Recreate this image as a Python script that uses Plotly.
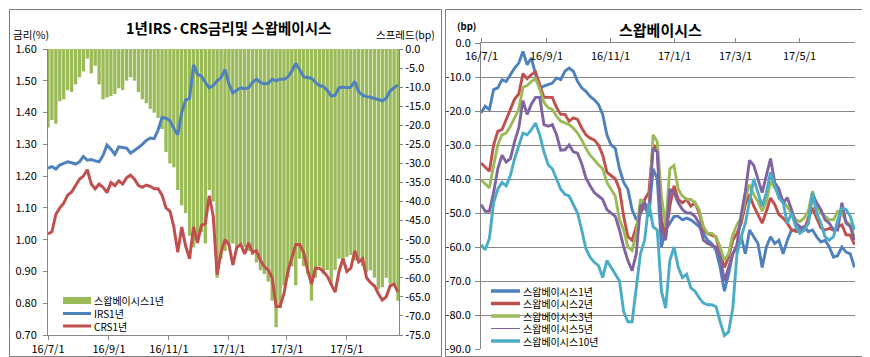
import pandas as pd
import plotly.graph_objects as go

# ---------------- data ----------------
dates = pd.date_range("2016-07-01", periods=90, freq="4D")

irs_1y = [1.225, 1.230, 1.222, 1.235, 1.240, 1.245, 1.242, 1.238, 1.245, 1.262,
          1.250, 1.252, 1.248, 1.245, 1.265, 1.298, 1.285, 1.268, 1.292, 1.290,
          1.288, 1.272, 1.280, 1.290, 1.300, 1.312, 1.320, 1.318, 1.345, 1.385,
          1.382, 1.375, 1.350, 1.330, 1.400, 1.440, 1.445, 1.550, 1.520, 1.515,
          1.495, 1.478, 1.485, 1.500, 1.510, 1.535, 1.490, 1.462, 1.470, 1.478,
          1.475, 1.478, 1.495, 1.505, 1.495, 1.490, 1.492, 1.505, 1.500, 1.505,
          1.505, 1.512, 1.530, 1.555, 1.535, 1.512, 1.510, 1.508, 1.495, 1.485,
          1.482, 1.470, 1.452, 1.455, 1.478, 1.480, 1.478, 1.480, 1.498, 1.465,
          1.455, 1.450, 1.448, 1.445, 1.440, 1.437, 1.445, 1.468, 1.478, 1.487]

crs_1y = [1.018, 1.025, 1.080, 1.100, 1.115, 1.140, 1.150, 1.168, 1.190, 1.200,
          1.220, 1.175, 1.160, 1.175, 1.165, 1.148, 1.180, 1.170, 1.185, 1.175,
          1.195, 1.203, 1.190, 1.170, 1.165, 1.172, 1.168, 1.160, 1.160, 1.140,
          1.100, 1.090, 1.040, 0.960, 1.040, 0.980, 0.940, 1.040, 0.990, 1.045,
          1.050, 1.138, 1.075, 0.890, 0.960, 1.000, 0.985, 0.920, 0.975, 0.985,
          0.955, 0.990, 0.960, 0.965, 0.935, 0.915, 0.905, 0.880, 0.790, 0.790,
          0.830, 0.900, 0.940, 0.985, 0.985, 0.960, 0.905, 0.860, 0.910, 0.910,
          0.900, 0.885, 0.860, 0.835, 0.900, 0.940, 0.900, 0.910, 0.965, 0.930,
          0.940, 0.880, 0.865, 0.855, 0.830, 0.810, 0.820, 0.855, 0.860, 0.835]

basis_1y = [-20.6, -18.6, -19.6, -13.7, -13.2, -10.8, -11.3, -9.3, -7.4, -5.9,
            -2.5, -6.4, -4.4, -9.3, -13.2, -12.7, -12.3, -11.8, -10.3, -10.8,
            -8.3, -7.4, -8.3, -11.3, -13.2, -14.2, -15.7, -16.7, -18.1, -21.0,
            -27.0, -30.0, -31.0, -37.0, -41.0, -43.0, -49.0, -52.0, -50.0, -48.0,
            -51.0, -37.0, -40.0, -60.0, -55.0, -53.0, -51.0, -51.0, -52.0, -51.5,
            -52.0, -53.0, -54.0, -56.0, -58.0, -59.0, -61.0, -66.0, -73.0, -68.0,
            -62.0, -60.0, -57.0, -62.0, -55.0, -57.0, -59.0, -66.0, -60.0, -57.0,
            -59.0, -58.0, -62.0, -58.0, -55.0, -55.0, -54.5, -54.0, -55.5, -55.0,
            -57.0, -58.5, -58.0, -60.0, -63.0, -62.5, -60.0, -61.5, -62.0, -66.0]

basis_2y = [-35.3, -36.5, -37.7, -30.0, -26.0, -25.5, -22.5, -19.0, -16.5, -15.0,
            -9.0, -10.5, -9.3, -8.5, -12.0, -16.0, -16.0, -16.0, -19.0, -21.0,
            -21.0, -23.0, -22.0, -22.5, -25.0, -27.0, -28.0, -28.5, -30.0, -33.0,
            -38.0, -39.0, -40.0, -43.0, -51.0, -57.0, -58.0, -54.0, -50.0, -46.0,
            -44.0, -30.0, -31.0, -52.0, -57.0, -48.0, -42.0, -46.0, -47.0, -46.0,
            -48.0, -47.0, -50.0, -55.0, -56.0, -56.5, -57.0, -62.0, -66.0, -63.0,
            -58.0, -56.0, -53.0, -47.5, -44.6, -48.0, -50.5, -53.0, -49.5, -45.6,
            -47.5, -50.5, -51.5, -53.0, -55.0, -55.4, -55.5, -55.0, -51.5, -48.5,
            -51.5, -54.4, -55.0, -54.5, -55.0, -54.0, -53.5, -56.4, -56.5, -59.3]

basis_3y = [-40.2, -41.5, -42.6, -36.0, -30.0, -27.0, -26.5, -24.5, -22.0, -19.5,
            -13.0, -12.5, -11.3, -10.5, -13.5, -17.5, -19.0, -19.5, -21.5, -23.0,
            -23.5, -24.0, -25.0, -26.5, -28.5, -31.0, -33.0, -34.5, -35.8, -37.0,
            -41.0, -43.0, -45.0, -52.0, -55.0, -60.0, -61.0, -56.0, -46.0, -47.0,
            -50.0, -27.0, -29.0, -45.0, -54.0, -37.0, -36.0, -43.0, -45.0, -46.0,
            -46.0, -47.0, -49.0, -54.0, -56.0, -56.0, -57.0, -60.0, -64.0, -62.0,
            -56.4, -53.4, -51.5, -45.6, -41.7, -44.6, -46.6, -49.5, -46.6, -40.7,
            -42.6, -44.6, -46.6, -48.5, -50.5, -52.0, -52.5, -51.5, -49.5, -43.6,
            -48.0, -50.0, -51.0, -52.0, -52.0, -49.5, -50.0, -52.5, -53.5, -57.4]

basis_5y = [-47.5, -49.5, -49.5, -44.0, -37.0, -33.0, -35.0, -34.0, -29.0, -25.0,
            -17.0, -21.0, -18.0, -16.0, -16.0, -24.0, -24.5, -24.0, -27.0, -31.5,
            -31.4, -30.0, -32.0, -32.4, -35.5, -39.7, -42.0, -44.0, -45.0, -46.0,
            -49.0, -50.0, -51.0, -55.0, -60.0, -64.0, -67.0, -62.0, -48.0, -47.0,
            -50.0, -31.0, -32.0, -55.0, -58.0, -43.0, -44.0, -47.0, -49.0, -50.0,
            -50.0, -51.0, -53.0, -58.0, -59.0, -59.5, -60.0, -63.0, -70.0, -66.0,
            -62.0, -59.3, -50.5, -43.6, -34.5, -36.0, -40.0, -44.0, -39.0, -34.0,
            -41.0, -43.0, -47.0, -45.5, -49.0, -53.0, -54.0, -55.0, -53.0, -44.5,
            -47.0, -49.0, -52.0, -53.0, -55.0, -55.0, -47.0, -53.0, -54.0, -58.0]

basis_10y = [-59.3, -60.8, -57.5, -47.0, -43.0, -41.0, -42.0, -39.0, -34.0, -30.0,
             -26.5, -27.0, -25.5, -23.5, -27.0, -32.0, -35.8, -37.0, -40.0, -43.0,
             -44.5, -45.0, -47.5, -50.0, -55.0, -60.5, -63.0, -64.5, -65.5, -69.0,
             -64.0, -66.0, -68.0, -70.0, -79.0, -82.0, -82.0, -72.0, -62.0, -58.0,
             -47.0, -54.0, -55.0, -73.0, -78.0, -64.0, -60.0, -66.0, -69.0, -68.0,
             -72.0, -73.0, -75.0, -76.5, -77.0, -77.0, -77.5, -82.0, -86.0, -85.0,
             -78.0, -62.0, -57.0, -53.0, -46.0, -40.0, -44.0, -48.0, -44.0, -38.0,
             -42.0, -45.6, -47.0, -53.0, -50.0, -54.0, -56.0, -55.0, -53.0, -44.0,
             -50.0, -53.0, -57.0, -58.0, -57.0, -52.0, -48.5, -49.0, -51.0, -55.0]

date_tick_vals = ["2016-07-01", "2016-09-01", "2016-11-01", "2017-01-01", "2017-03-01", "2017-05-01"]
date_tick_text = ["16/7/1", "16/9/1", "16/11/1", "17/1/1", "17/3/1", "17/5/1"]
rate_tick_vals = [0.70, 0.80, 0.90, 1.00, 1.10, 1.20, 1.30, 1.40, 1.50, 1.60]
rate_tick_text = ["0.70", "0.80", "0.90", "1.00", "1.10", "1.20", "1.30", "1.40", "1.50", "1.60"]
spread_tick_vals = [0, -5, -10, -15, -20, -25, -30, -35, -40, -45, -50, -55, -60, -65, -70, -75]
spread_tick_text = ["0.0", "-5.0", "-10.0", "-15.0", "-20.0", "-25.0", "-30.0", "-35.0", "-40.0",
                    "-45.0", "-50.0", "-55.0", "-60.0", "-65.0", "-70.0", "-75.0"]
basis_tick_vals = [0, -10, -20, -30, -40, -50, -60, -70, -80, -90]
basis_tick_text = ["0.0", "-10.0", "-20.0", "-30.0", "-40.0", "-50.0", "-60.0", "-70.0", "-80.0", "-90.0"]

right_names = ["스왑베이시스1년", "스왑베이시스2년", "스왑베이시스3년", "스왑베이시스5년", "스왑베이시스10년"]
right_series = [basis_1y, basis_2y, basis_3y, basis_5y, basis_10y]
right_colors = ["#4F81BD", "#C0504D", "#9BBB59", "#8064A2", "#4BACC6"]

# ---------------- layout helpers ----------------
W, H = 870, 357
FONT = "Noto Sans CJK KR"
AX = "#868686"


def px(x):
    return x / W


def py(y):
    return 1 - y / H


fig = go.Figure()

# left chart
fig.add_trace(go.Bar(x=dates, y=basis_1y, marker=dict(color="#9BBB59", line=dict(width=0)),
                     xaxis="x", yaxis="y", showlegend=False, name="스왑베이시스1년"))
fig.add_trace(go.Scatter(x=dates, y=irs_1y, mode="lines", line=dict(color="#4F81BD", width=3),
                         xaxis="x", yaxis="y2", showlegend=False, name="IRS1년"))
fig.add_trace(go.Scatter(x=dates, y=crs_1y, mode="lines", line=dict(color="#C0504D", width=3),
                         xaxis="x", yaxis="y2", showlegend=False, name="CRS1년"))

# right chart
for name, ser, col in zip(right_names, right_series, right_colors):
    fig.add_trace(go.Scatter(x=dates, y=ser, mode="lines", line=dict(color=col, width=2.9),
                             xaxis="x2", yaxis="y3", showlegend=False, name=name))

tickfont = dict(family=FONT, size=11, color="black")

fig.update_layout(
    width=W, height=H, margin=dict(l=0, r=0, t=0, b=0, autoexpand=False),
    paper_bgcolor="white", plot_bgcolor="white",
    font=dict(family=FONT, size=11, color="black"),
    bargap=0.15, showlegend=False,
    xaxis=dict(domain=[px(40), px(391)], anchor="y", type="date", automargin=False,
               range=["2016-07-01", "2017-06-23"],
               tickvals=date_tick_vals, ticktext=date_tick_text, tickfont=tickfont,
               ticks="outside", ticklen=4, tickcolor=AX, showline=True, linecolor=AX,
               showgrid=False, zeroline=False),
    yaxis=dict(domain=[py(327), py(41)], anchor="x", side="right", range=[-75, 0], automargin=False,
               tickvals=spread_tick_vals, ticktext=spread_tick_text, tickfont=tickfont,
               ticks="outside", ticklen=3, tickcolor=AX, showline=True, linecolor=AX,
               showgrid=False, zeroline=False),
    yaxis2=dict(overlaying="y", anchor="x", side="left", range=[0.70, 1.60], automargin=False,
                tickvals=rate_tick_vals, ticktext=rate_tick_text, tickfont=tickfont,
                ticks="outside", ticklen=4, tickcolor=AX, showline=True, linecolor=AX,
                ticklabelstandoff=4, showgrid=False, zeroline=False),
    xaxis2=dict(domain=[px(473), px(847)], anchor="y3", side="top", type="date", automargin=False,
                range=["2016-07-01", "2017-06-22 12:00"],
                tickvals=date_tick_vals, ticks="outside", ticklen=4, tickcolor=AX,
                showticklabels=False, showline=True, linecolor=AX, showgrid=False, zeroline=False),
    yaxis3=dict(domain=[py(341), py(35)], anchor="x2", range=[-90, 0], automargin=False,
                tickvals=basis_tick_vals, ticktext=basis_tick_text, tickfont=tickfont,
                ticks="outside", ticklen=5, tickcolor=AX, showline=True, linecolor=AX,
                ticklabelstandoff=2, showgrid=True, gridcolor=AX, gridwidth=1, zeroline=False),
)

shapes = []
# panel borders
shapes.append(dict(type="rect", xref="paper", yref="paper", x0=px(1.5), x1=px(433.5),
                   y0=py(348.5), y1=py(1.5), line=dict(color="#7F7F7F", width=1)))
shapes.append(dict(type="rect", xref="paper", yref="paper", x0=px(437.5), x1=px(868.5),
                   y0=py(348.5), y1=py(1.5), line=dict(color="#7F7F7F", width=1)))

annotations = []
# right chart date labels sit just below the top axis line, inside the plot
for tv, tt in zip(date_tick_vals, date_tick_text):
    annotations.append(dict(text=tt, x=tv, y=py(47), xref="x2", yref="paper", showarrow=False,
                            xanchor="center", yanchor="middle", font=tickfont))

# titles and axis titles
annotations.append(dict(text="<b>1년IRS·CRS금리및 스왑베이시스</b>", x=px(220), y=py(19),
                        xref="paper", yref="paper", showarrow=False, xanchor="center", yanchor="middle",
                        font=dict(family=FONT, size=14.5, color="black")))
annotations.append(dict(text="금리(%)", x=px(3), y=py(27), xref="paper", yref="paper", showarrow=False,
                        xanchor="left", yanchor="middle", font=dict(family=FONT, size=10.5, color="black")))
annotations.append(dict(text="스프레드(bp)", x=px(429), y=py(27), xref="paper", yref="paper",
                        showarrow=False, xanchor="right", yanchor="middle",
                        font=dict(family=FONT, size=10.5, color="black")))
annotations.append(dict(text="<b>스왑베이시스</b>", x=px(652), y=py(21), xref="paper", yref="paper",
                        showarrow=False, xanchor="center", yanchor="middle",
                        font=dict(family=FONT, size=15, color="black")))
annotations.append(dict(text="<b>(bp)</b>", x=px(447), y=py(18), xref="paper", yref="paper",
                        showarrow=False, xanchor="left", yanchor="middle",
                        font=dict(family=FONT, size=9.5, color="black")))

# left legend
shapes.append(dict(type="rect", xref="paper", yref="paper", x0=px(55), x1=px(83), y0=py(296), y1=py(289),
                   fillcolor="#9BBB59", line=dict(width=0)))
left_leg = [("스왑베이시스1년", 292.5, None), ("IRS1년", 305.5, "#4F81BD"), ("CRS1년", 318, "#C0504D")]
for txt, yy, col in left_leg:
    if col:
        shapes.append(dict(type="line", xref="paper", yref="paper", x0=px(55), x1=px(83), y0=py(yy), y1=py(yy),
                           line=dict(color=col, width=3)))
    annotations.append(dict(text=txt, x=px(84), y=py(yy), xref="paper", yref="paper", showarrow=False,
                            xanchor="left", yanchor="middle", font=dict(family=FONT, size=10, color="black")))

# right legend
leg_y = [283, 295.5, 308, 320.5, 333]
for name, col, yy, i in zip(right_names, right_colors, leg_y, range(5)):
    shapes.append(dict(type="line", xref="paper", yref="paper", x0=px(483), x1=px(512), y0=py(yy), y1=py(yy),
                       line=dict(color=col, width=1 if i == 3 else 3.5)))
    annotations.append(dict(text=name, x=px(513), y=py(yy), xref="paper", yref="paper", showarrow=False,
                            xanchor="left", yanchor="middle", font=dict(family=FONT, size=10, color="black")))

fig.update_layout(shapes=shapes, annotations=annotations)

fig.write_html("out.html")
